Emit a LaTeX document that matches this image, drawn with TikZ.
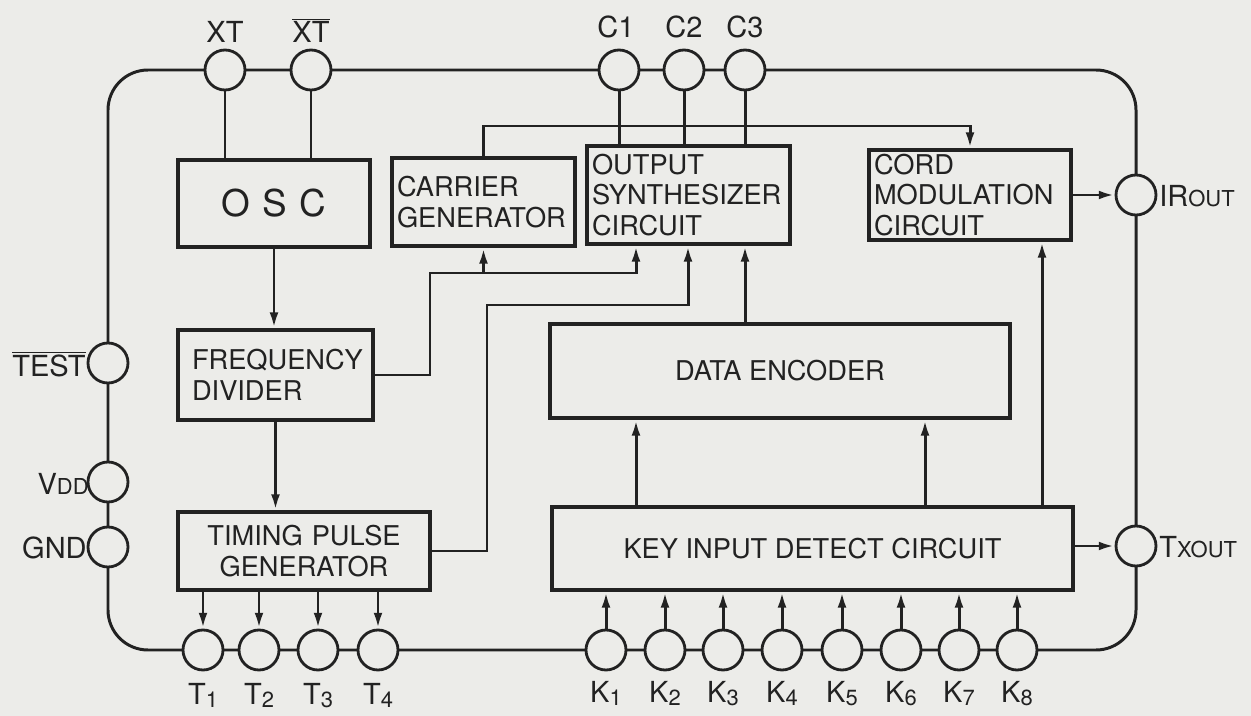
\documentclass[tikz,border=0pt]{standalone}
\usepackage{fontspec}
\setmainfont{TeX Gyre Heros}
\usetikzlibrary{arrows.meta}
\definecolor{bg}{RGB}{236,236,233}
\definecolor{ink}{RGB}{34,34,34}
\newcommand{\smf}[1]{{\fontsize{12.5}{12.5}\selectfont #1}}
\newcommand{\subd}[1]{\raisebox{-2pt}{\smf{#1}}}
\begin{document}
\begin{tikzpicture}[x=0.02cm,y=-0.02cm,
  box/.style={draw=ink,line width=2pt,inner xsep=0.1cm,inner ysep=0pt,
    font=\fontsize{15.5}{17.5}\selectfont,text=ink},
  pin/.style={circle,draw=ink,line width=1.6pt,fill=bg,minimum size=0.8cm,inner sep=0pt},
  lbl/.style={text=ink,font=\fontsize{16.5}{18}\selectfont,inner sep=0pt},
  wire/.style={draw=ink,line width=1.7pt},
  arr/.style={wire,-{Latex[length=9pt,width=5pt]}}]
\fill[bg] (0,0) rectangle (1251,716);
\useasboundingbox (0,0) rectangle (1251,716);

% outer bus frame
\draw[wire,rounded corners=0.8cm] (108,70) rectangle (1136,650);

% blocks
\node[box,minimum width=3.84cm,minimum height=1.74cm,font=\fontsize{21}{22}\selectfont] (osc) at (274,203.5) {O\,\,S\,\,C};
\node[box,minimum width=3.66cm,minimum height=1.76cm,text width=3.46cm,align=left] (carrier) at (483.5,202) {CARRIER\\GENERATOR};
\node[box,minimum width=4.06cm,minimum height=1.96cm,text width=3.86cm,align=left] (outsyn) at (688.5,195) {OUTPUT\\SYNTHESIZER\\CIRCUIT};
\node[box,minimum width=4.04cm,minimum height=1.8cm,text width=3.84cm,align=left] (cord) at (970,195) {CORD\\MODULATION\\CIRCUIT};
\node[box,inner xsep=0.28cm,minimum width=3.9cm,minimum height=1.8cm,text width=3.34cm,align=left] (freq) at (275.5,375) {FREQUENCY\\DIVIDER};
\node[box,minimum width=9.2cm,minimum height=1.88cm] (enc) at (780,371) {DATA ENCODER};
\node[box,minimum width=5.04cm,minimum height=1.56cm,text width=4.84cm,align=center] (timing) at (304,551) {TIMING PULSE\\GENERATOR};
\node[box,minimum width=10.42cm,minimum height=1.66cm] (key) at (812.5,548.5) {KEY INPUT DETECT CIRCUIT};

% pins
\node[pin] (xt) at (225,70) {};
\node[pin] (xtb) at (311,70) {};
\node[pin] (c1) at (619,70) {};
\node[pin] (c2) at (684,70) {};
\node[pin] (c3) at (745,70) {};
\node[pin] (irout) at (1136,195) {};
\node[pin] (txout) at (1136,546) {};
\node[pin] (test) at (108,363) {};
\node[pin] (vdd) at (108,482) {};
\node[pin] (gnd) at (108,547) {};
\foreach \i/\x in {1/203,2/259,3/318,4/378}{
  \node[pin] (t\i) at (\x,650) {};
  \node[lbl,anchor=base] (tl\i) at (\x,704) {T\subd{\i}};
}
\foreach \i/\x in {1/606,2/665,3/723,4/782,5/842,6/901,7/959,8/1017}{
  \node[pin] (k\i) at (\x,650) {};
  \node[lbl,anchor=base] (kl\i) at (\x,702) {K\subd{\i}};
}

% pin labels
\node[lbl,anchor=base] (xtl) at (225,43) {XT};
\node[lbl,anchor=base] (xtbl) at (311,43) {$\overline{\mbox{XT}}$};
\node[lbl,anchor=base] (c1l) at (616,38) {C1};
\node[lbl,anchor=base] (c2l) at (684,38) {C2};
\node[lbl,anchor=base] (c3l) at (745,38) {C3};
\node[lbl,anchor=base east] (testl) at (86,376) {$\overline{\mbox{TEST}}$};
\node[lbl,anchor=base east] (vddl) at (89,494) {V\smf{DD}};
\node[lbl,anchor=base east] (gndl) at (87,558) {GND};
\node[lbl,anchor=base west] (iroutl) at (1159,207) {IR\smf{OUT}};
\node[lbl,anchor=base west] (txoutl) at (1159,557) {T\smf{XOUT}};

% helper coordinates
\coordinate (fa) at (430,273);
\coordinate (fb) at (636,273);
\coordinate (ta) at (487,305);
\coordinate (tb) at (688,305);
\coordinate (cb) at (970,126);
\coordinate (kc) at (1042,0);
\coordinate (ke) at (925,0);

% connections
\draw[wire] (xt) -- (xt |- osc.north);
\draw[wire] (xtb) -- (xtb |- osc.north);
\draw[wire] (c1) -- (c1 |- outsyn.north);
\draw[wire] (c2) -- (c2 |- outsyn.north);
\draw[wire] (c3) -- (c3 |- outsyn.north);
\draw[arr] (osc.south) -- (osc.south |- freq.north);
\draw[arr] (freq.south) -- (freq.south |- timing.north);
\draw[arr] (freq.east) -| (fa) -- (fb) -- (fb |- outsyn.south);
\draw[arr] (carrier.south |- fa) -- (carrier.south);
\draw[arr] (timing.east) -| (ta) -- (tb) -- (tb |- outsyn.south);
\draw[arr] (c3 |- enc.north) -- (c3 |- outsyn.south);
\draw[arr] (carrier.north) |- (cb) -- (cord.north);
\draw[arr] (cord.east) -- (irout);
\draw[arr] (key.east |- txout) -- (txout);
\draw[arr] (key.north -| kc) -- (cord.south -| kc);
\draw[arr] (key.north -| fb) -- (enc.south -| fb);
\draw[arr] (key.north -| ke) -- (enc.south -| ke);
\foreach \i in {1,...,4}{\draw[arr] (t\i |- timing.south) -- (t\i);}
\foreach \i in {1,...,8}{\draw[arr] (k\i) -- (k\i |- key.south);}
\end{tikzpicture}
\end{document}
